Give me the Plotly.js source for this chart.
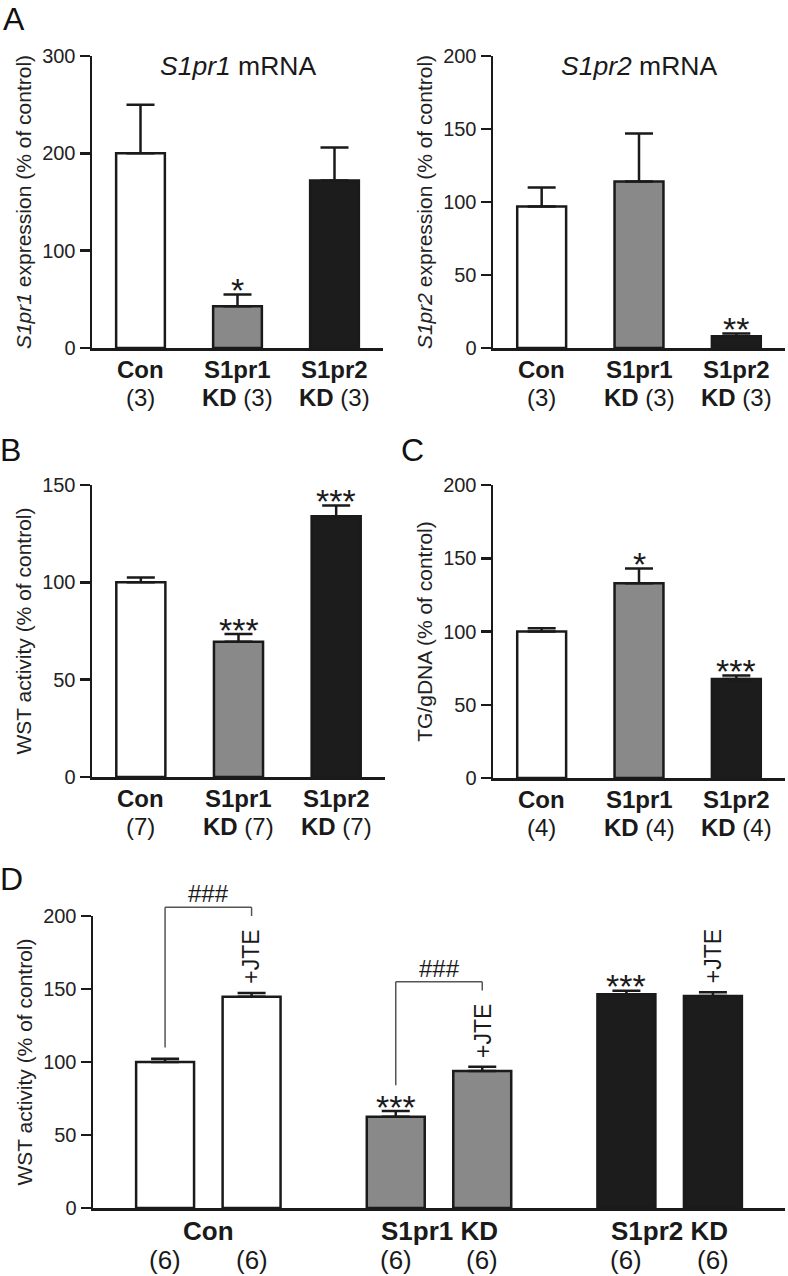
<!DOCTYPE html>
<html><head><meta charset="utf-8">
<script src="https://cdn.plot.ly/plotly-3.0.1.min.js"></script>
<style>html,body{margin:0;padding:0;background:#fff}</style>
</head><body><div id="chart" style="width:788px;height:1276px"></div>
<script>
// ---------------- data ----------------
const categories = ['Con', 'S1pr1 KD', 'S1pr2 KD'];
const catLine1 = ['Con', 'S1pr1', 'S1pr2'];
const catLine2Bold = ['', 'KD', 'KD'];
const barColors = ['#ffffff', '#898989', '#1c1c1c'];

// A: S1pr1 mRNA
const s1pr1Mean = [200, 43, 172];
const s1pr1Sem = [50, 12, 34];
const s1pr1N = [3, 3, 3];
const s1pr1Sig = ['', '*', ''];
const s1pr1Ticks = [0, 100, 200, 300];

// A: S1pr2 mRNA
const s1pr2Mean = [97, 114, 8];
const s1pr2Sem = [13, 33, 2];
const s1pr2N = [3, 3, 3];
const s1pr2Sig = ['', '', '**'];
const s1pr2Ticks = [0, 50, 100, 150, 200];

// B: WST activity
const wstMean = [100, 69.5, 134];
const wstSem = [2.5, 4, 5.5];
const wstN = [7, 7, 7];
const wstSig = ['', '***', '***'];
const wstTicks = [0, 50, 100, 150];

// C: TG/gDNA
const tgMean = [100, 133, 67.5];
const tgSem = [2.3, 10, 2.5];
const tgN = [4, 4, 4];
const tgSig = ['', '*', '***'];
const tgTicks = [0, 50, 100, 150, 200];

// D: WST activity without / with JTE
const dCatLabels = ['Con', 'S1pr1 KD', 'S1pr2 KD'];
const jteCtrlMean = [100, 62.5, 146.4];
const jteCtrlSem = [2.2, 4, 2.4];
const jteDrugMean = [144.7, 93.8, 145.2];
const jteDrugSem = [2.5, 3, 2.5];
const jteCtrlN = [6, 6, 6];
const jteDrugN = [6, 6, 6];
const jteCtrlSig = ['', '***', '***'];
const jteDrugLabel = ['+JTE', '+JTE', '+JTE'];
const bracketLabel = ['###', '###', ''];
const bracketTop = [206, 155, null];
const bracketLeftEnd = [110, 84, null];
const bracketRightEnd = [200, 149, null];
const dTicks = [0, 50, 100, 150, 200];

// ---------------- styling / geometry ----------------
const W = 788, H = 1276;
const FONT = 'Liberation Sans, Arial, Helvetica, sans-serif';
const INK = '#1a1a1a';
const LW = 2.5;
const BARGAP = 0.25, BARGROUPGAP = 0.33;
const px2x = p => p / W;
const py2y = p => 1 - p / H;

const panels = [
  {id: '', xpx: [92, 383], ypx: [56, 348], range: [0, 300], ticks: s1pr1Ticks,
   ytitle: '<i>S1pr1</i> expression (% of control)', title: '<i>S1pr1</i> mRNA',
   mean: s1pr1Mean, sem: s1pr1Sem, n: s1pr1N, sig: s1pr1Sig},
  {id: '2', xpx: [493, 785], ypx: [56, 348], range: [0, 200], ticks: s1pr2Ticks,
   ytitle: '<i>S1pr2</i> expression (% of control)', title: '<i>S1pr2</i> mRNA',
   mean: s1pr2Mean, sem: s1pr2Sem, n: s1pr2N, sig: s1pr2Sig},
  {id: '3', xpx: [92, 385], ypx: [485, 777], range: [0, 150], ticks: wstTicks,
   ytitle: 'WST activity (% of control)', title: '',
   mean: wstMean, sem: wstSem, n: wstN, sig: wstSig},
  {id: '4', xpx: [493, 785], ypx: [485, 778], range: [0, 200], ticks: tgTicks,
   ytitle: 'TG/gDNA (% of control)', title: '',
   mean: tgMean, sem: tgSem, n: tgN, sig: tgSig}
];
const dPanel = {id: '5', xpx: [93, 785], ypx: [916, 1208], range: [0, 200], ticks: dTicks,
   ytitle: 'WST activity (% of control)'};

const traces = [];
const annotations = [];
const shapes = [];
const layout = {
  width: W, height: H, margin: {l: 0, r: 0, t: 0, b: 0},
  paper_bgcolor: '#fff', plot_bgcolor: 'rgba(0,0,0,0)',
  showlegend: false, barmode: 'group', bargap: BARGAP, bargroupgap: BARGROUPGAP,
  font: {family: FONT, color: INK}
};

function ann(o) {
  return Object.assign({showarrow: false, borderpad: 0, borderwidth: 0}, o);
}

function axes(p) {
  const xd = [px2x(p.xpx[0]), px2x(p.xpx[1])];
  const yd = [py2y(p.ypx[1]), py2y(p.ypx[0])];
  layout['xaxis' + p.id] = {
    domain: xd, anchor: 'y' + p.id, type: 'category', range: [-0.5, 2.5],
    showline: true, linewidth: LW, linecolor: INK, ticks: '', showticklabels: false,
    showgrid: false, zeroline: false, fixedrange: true
  };
  layout['yaxis' + p.id] = {
    domain: yd, anchor: 'x' + p.id, range: p.range, tickvals: p.ticks,
    ticktext: p.ticks.map(String),
    ticks: 'outside', ticklen: 10, tickwidth: LW, tickcolor: INK,
    showline: true, linewidth: LW, linecolor: INK, showgrid: false, zeroline: false,
    tickfont: {family: FONT, size: 20, color: '#222'},
    title: {text: p.ytitle, font: {family: FONT, size: 21, color: '#222'}, standoff: 5},
    fixedrange: true
  };
  return {xd, yd};
}

function barTrace(p, mean, sem, name) {
  return {
    type: 'bar', name: name, x: categories, y: mean,
    xaxis: 'x' + p.id, yaxis: 'y' + p.id,
    marker: {color: barColors, line: {color: INK, width: LW}},
    error_y: {type: 'data', symmetric: false, array: sem, arrayminus: sem.map(() => 0),
              color: INK, thickness: LW, width: 14},
    hoverinfo: 'skip'
  };
}

// panels A, B, C
panels.forEach(p => {
  const {xd, yd} = axes(p);
  traces.push(barTrace(p, p.mean, p.sem, p.ytitle));
  categories.forEach((c, i) => {
    if (p.sig[i]) annotations.push(ann({
      xref: 'x' + p.id, yref: 'y' + p.id, x: c, y: p.mean[i] + p.sem[i],
      text: p.sig[i], xanchor: 'center', yanchor: 'bottom', yshift: -14.6,
      font: {family: FONT, size: 34, color: INK}
    }));
    annotations.push(ann({
      xref: 'x' + p.id, yref: 'paper', x: c, y: yd[0], yanchor: 'top', yshift: -8.3,
      text: '<b>' + catLine1[i] + '</b>', font: {family: FONT, size: 24, color: INK}
    }));
    annotations.push(ann({
      xref: 'x' + p.id, yref: 'paper', x: c, y: yd[0], yanchor: 'top', yshift: -35.5,
      text: (catLine2Bold[i] ? '<b>' + catLine2Bold[i] + '</b> ' : '') + '(' + p.n[i] + ')',
      font: {family: FONT, size: 24, color: INK}
    }));
  });
  if (p.title) annotations.push(ann({
    xref: 'x' + p.id, yref: 'paper', x: 1, y: yd[1], yanchor: 'middle', yshift: -10,
    text: p.title, font: {family: FONT, size: 26.5, color: INK}
  }));
});

// panel D
(function () {
  const p = dPanel;
  const {xd, yd} = axes(p);
  const slot = (1 - BARGAP) / 2;           // width of each trace slot within a category
  const off = slot / 2;                     // centre offset of each bar from its category centre
  const toPaper = v => yd[0] + (v - p.range[0]) / (p.range[1] - p.range[0]) * (yd[1] - yd[0]);
  traces.push(barTrace(p, jteCtrlMean, jteCtrlSem, 'vehicle'));
  traces.push(barTrace(p, jteDrugMean, jteDrugSem, '+JTE'));
  categories.forEach((c, i) => {
    annotations.push(ann({
      xref: 'x5', yref: 'paper', x: i, y: yd[0], yanchor: 'top', yshift: -7.5,
      text: '<b>' + dCatLabels[i] + '</b>', font: {family: FONT, size: 26, color: INK}
    }));
    annotations.push(ann({
      xref: 'x5', yref: 'paper', x: i - off, y: yd[0], yanchor: 'top', yshift: -37,
      text: '(' + jteCtrlN[i] + ')', font: {family: FONT, size: 26, color: INK}
    }));
    annotations.push(ann({
      xref: 'x5', yref: 'paper', x: i + off, y: yd[0], yanchor: 'top', yshift: -37,
      text: '(' + jteDrugN[i] + ')', font: {family: FONT, size: 26, color: INK}
    }));
    if (jteCtrlSig[i]) annotations.push(ann({
      xref: 'x5', yref: 'y5', x: i - off, y: jteCtrlMean[i] + jteCtrlSem[i],
      text: jteCtrlSig[i], yanchor: 'bottom', yshift: -14.6,
      font: {family: FONT, size: 34, color: INK}
    }));
    annotations.push(ann({
      xref: 'x5', yref: 'y5', x: i + off, y: jteDrugMean[i] + jteDrugSem[i],
      text: jteDrugLabel[i], textangle: -90, yanchor: 'bottom', yshift: 9,
      font: {family: FONT, size: 23, color: INK}
    }));
    if (bracketLabel[i]) {
      const ln = {color: '#555', width: 1.5};
      const yt = toPaper(bracketTop[i]);
      shapes.push({type: 'line', xref: 'x5', yref: 'paper', x0: i - off, x1: i - off,
                   y0: toPaper(bracketLeftEnd[i]), y1: yt, line: ln});
      shapes.push({type: 'line', xref: 'x5', yref: 'paper', x0: i - off, x1: i + off,
                   y0: yt, y1: yt, line: ln});
      shapes.push({type: 'line', xref: 'x5', yref: 'paper', x0: i + off, x1: i + off,
                   y0: toPaper(bracketRightEnd[i]), y1: yt, line: ln});
      annotations.push(ann({
        xref: 'x5', yref: 'paper', x: i, y: yt, yanchor: 'bottom', yshift: 0,
        text: bracketLabel[i], font: {family: FONT, size: 24, color: INK}
      }));
    }
  });
})();

// panel letters
[['A', 3, 18.5], ['B', 0, 450], ['C', 401, 450], ['D', 0, 879]].forEach(([t, x, y]) => {
  annotations.push(ann({xref: 'paper', yref: 'paper', x: px2x(x), y: py2y(y), xanchor: 'left',
    yanchor: 'middle', text: t, font: {family: FONT, size: 32, color: '#111'}}));
});

layout.annotations = annotations;
layout.shapes = shapes;
Plotly.newPlot('chart', traces, layout, {staticPlot: true, displayModeBar: false});
</script>
</body></html>
